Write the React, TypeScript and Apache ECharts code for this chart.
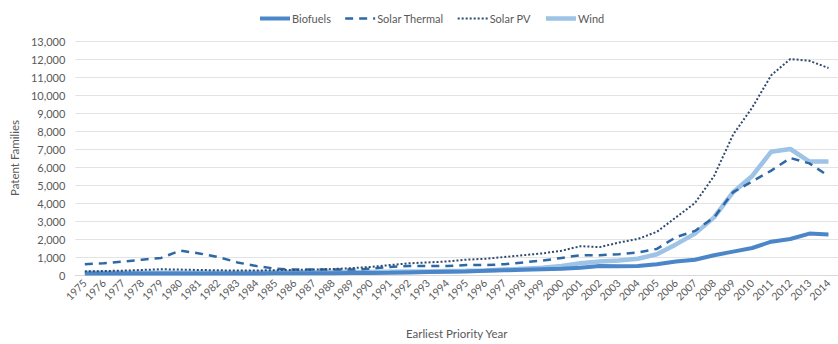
import React, { useEffect, useRef } from "react";
import * as echarts from "echarts";

const years = Array.from({ length: 40 }, (_, i) => String(1975 + i));
const seriesNames = ["Biofuels", "Solar Thermal", "Solar PV", "Wind"];

const biofuels = [
  90, 90, 90, 90, 90, 90, 90, 90, 90, 90,
  100, 100, 100, 100, 110, 110, 120, 140, 160, 180,
  200, 230, 260, 290, 320, 350, 400, 500, 480, 500,
  600, 750, 850, 1100, 1300, 1500, 1850, 2000, 2300, 2250,
];
const solarThermal = [
  600, 650, 750, 850, 950, 1350, 1200, 1000, 700, 500,
  350, 300, 300, 300, 300, 350, 450, 500, 500, 500,
  550, 550, 600, 700, 800, 950, 1100, 1100, 1150, 1250,
  1450, 2100, 2450, 3200, 4600, 5200, 5800, 6500, 6200, 5500,
];
const solarPV = [
  200, 220, 240, 280, 320, 300, 280, 260, 250, 250,
  270, 280, 300, 330, 380, 450, 550, 650, 700, 750,
  850, 900, 1000, 1100, 1200, 1350, 1600, 1550, 1800, 2000,
  2400, 3200, 4000, 5500, 7800, 9300, 11100, 12000, 11900, 11500,
];
const wind = [
  120, 120, 120, 120, 130, 130, 130, 130, 130, 140,
  150, 150, 150, 160, 170, 170, 180, 190, 200, 220,
  230, 250, 300, 350, 400, 500, 650, 750, 800, 900,
  1150, 1700, 2300, 3200, 4600, 5500, 6850, 7000, 6300, 6300,
];

export default function App() {
  const ref = useRef<HTMLDivElement>(null);
  useEffect(() => {
    if (!ref.current) return;
    const chart = echarts.init(ref.current, null, { renderer: "svg" });
    const font = "Lato, 'Open Sans', sans-serif";
    const textColor = "#595959";
    chart.setOption({
      animation: false,
      backgroundColor: "#ffffff",
      textStyle: { fontFamily: font },
      legend: {
        top: 8,
        left: 253,
        itemWidth: 30,
        itemHeight: 10,
        itemGap: 13,
        itemStyle: { opacity: 0, borderWidth: 0 },
        lineStyle: { width: "inherit" },
        textStyle: { color: textColor, fontSize: 11, fontFamily: font, padding: [0, 0, 0, -3] },
        data: seriesNames,
      },
      grid: { left: 72, right: -7, top: 41, bottom: 56, containLabel: false },
      xAxis: {
        type: "category",
        data: years,
        boundaryGap: true,
        name: "Earliest Priority Year",
        nameLocation: "middle",
        nameGap: 52,
        nameTextStyle: { color: textColor, fontSize: 11.5, fontFamily: font },
        axisLine: { show: true, lineStyle: { color: "#d9d9d9" } },
        axisTick: { show: false },
        axisLabel: {
          rotate: 45,
          interval: 0,
          color: textColor,
          fontSize: 10.5,
          margin: 6,
          fontFamily: font,
        },
      },
      yAxis: {
        type: "value",
        min: 0,
        max: 13000,
        interval: 1000,
        name: "Patent Families",
        nameLocation: "middle",
        nameGap: 54,
        nameTextStyle: { color: textColor, fontSize: 11.5, fontFamily: font },
        axisLine: { show: false },
        axisTick: { show: false },
        axisLabel: {
          color: textColor,
          fontSize: 11,
          margin: 10,
          fontFamily: font,
          formatter: (v: number) => v.toLocaleString("en-US"),
        },
        splitLine: { lineStyle: { color: "#e3e3e3", width: 1 } },
      },
      series: [
        {
          name: "Biofuels",
          type: "line",
          data: biofuels,
          symbol: "none",
          color: "#4a86c8",
          lineStyle: { width: 4, color: "#4a86c8" },
          z: 3,
        },
        {
          name: "Solar Thermal",
          type: "line",
          data: solarThermal,
          symbol: "none",
          color: "#2f68a4",
          lineStyle: { width: 2.5, type: [8, 6], color: "#2f68a4" },
          z: 4,
        },
        {
          name: "Solar PV",
          type: "line",
          data: solarPV,
          symbol: "none",
          color: "#2e4a6e",
          lineStyle: { width: 2, type: [2, 2], color: "#2e4a6e" },
          z: 5,
        },
        {
          name: "Wind",
          type: "line",
          data: wind,
          symbol: "none",
          color: "#9dc3e6",
          lineStyle: { width: 4.5, color: "#9dc3e6" },
          z: 2,
        },
      ],
    });
    return () => chart.dispose();
  }, []);
  return (
    <div
      ref={ref}
      style={{ position: "fixed", left: 0, top: 0, width: 838, height: 344, background: "#fff" }}
    />
  );
}
